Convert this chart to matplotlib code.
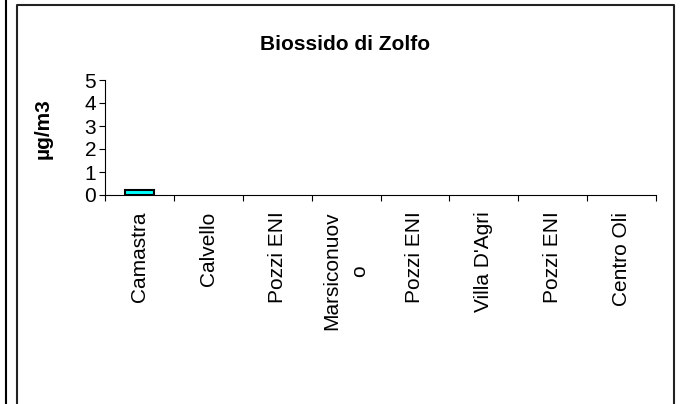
import numpy as np
import matplotlib.pyplot as plt
from matplotlib.lines import Line2D

plt.rcParams['font.family'] = ['Liberation Sans', 'DejaVu Sans']

# Data (no measurement for stations after Camastra)
stations = ["Camastra", "Calvello", "Pozzi ENI", "Marsiconuov\no",
            "Pozzi ENI", "Villa D'Agri", "Pozzi ENI", "Centro Oli"]
so2_values = [0.2, np.nan, np.nan, np.nan, np.nan, np.nan, np.nan, np.nan]
y_ticks = [0, 1, 2, 3, 4, 5]

fig = plt.figure(figsize=(6.8, 4.04), dpi=100)
ax = fig.add_axes([105 / 680, 1 - 195 / 404, 551 / 680, 115 / 404])

x = np.arange(len(stations))
ax.bar(x, so2_values, width=0.42, color="#00FFFF", edgecolor="black", linewidth=1.5)

ax.set_xlim(-0.5, len(stations) - 0.5)
ax.set_ylim(0, 5)
ax.set_yticks(y_ticks)
ax.tick_params(axis="y", labelsize=15, length=4.3, width=0.8, pad=2)

# category labels at centres, tick marks at boundaries
ax.set_xticks(x)
ax.set_xticklabels(stations, rotation=90, fontsize=15, ha="center", va="top",
                   multialignment="center", linespacing=1.6)
ax.set_xticks(np.arange(-0.5, len(stations)), minor=True)
ax.tick_params(axis="x", which="major", length=0, pad=12)
ax.tick_params(axis="x", which="minor", length=4.3, width=0.8)

for s in ["top", "right"]:
    ax.spines[s].set_visible(False)
for s in ["left", "bottom"]:
    ax.spines[s].set_linewidth(0.8)

ax.set_ylabel("µg/m3", fontsize=15, fontweight="bold")
ax.yaxis.set_label_coords(-0.095, 0.58)
fig.text(345 / 680, 1 - 45 / 404, "Biossido di Zolfo", fontsize=15,
         fontweight="bold", ha="center", va="center")

# chart frames
W, H = 680, 404
fig.add_artist(Line2D([6 / W, 6 / W], [0, 1], color="black", lw=1.5))
fig.add_artist(Line2D([16.5 / W, 16.5 / W, 674 / W, 674 / W],
                      [0, 1 - 5 / H, 1 - 5 / H, 0], color="#222222", lw=1.5))

fig.savefig("out.png", dpi=100)
